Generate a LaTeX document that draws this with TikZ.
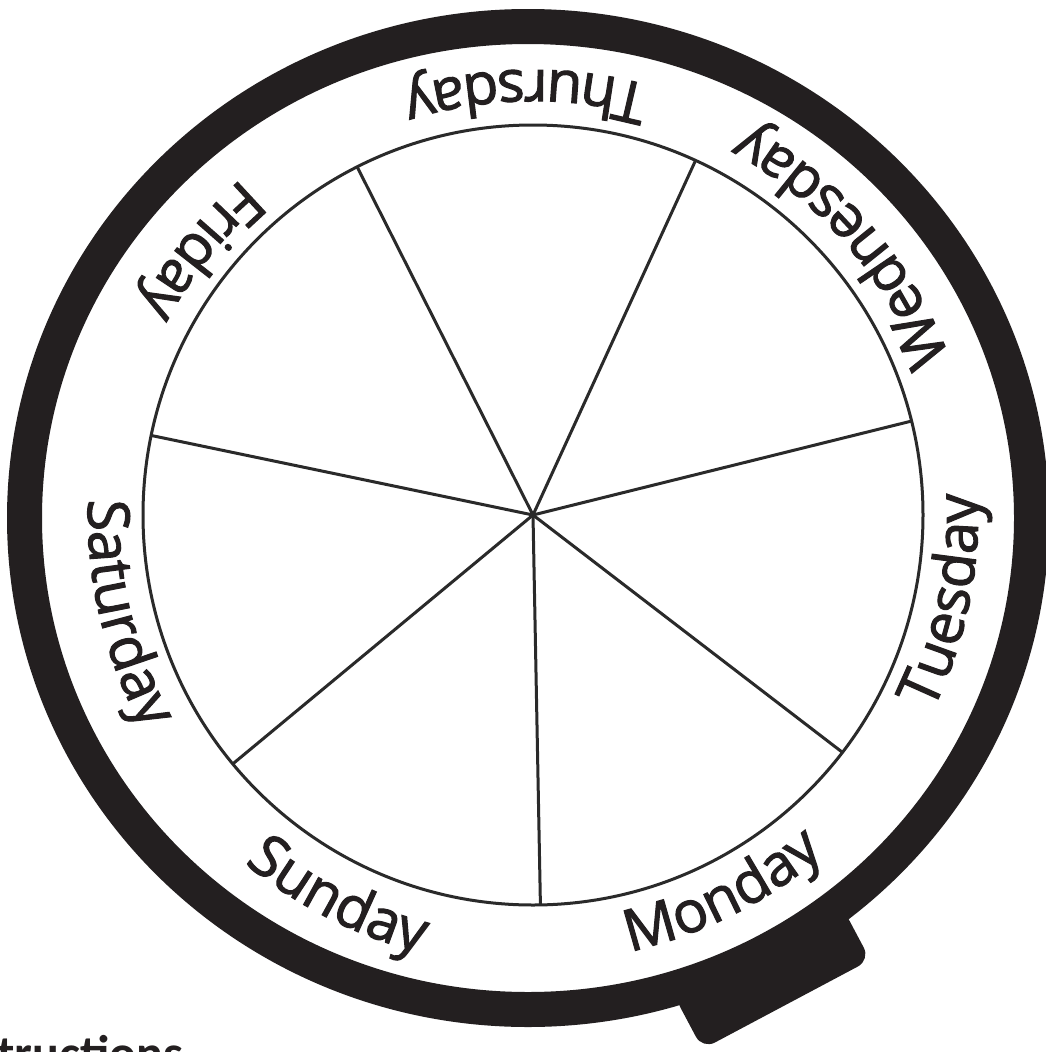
\documentclass[tikz,border=0pt]{standalone}
\usepackage{fontspec}
\usetikzlibrary{decorations.text}
\newfontfamily\dayfont[FakeBold=1.8]{Open Sans}
\newfontfamily\insfont{Carlito}
\definecolor{ringblack}{HTML}{231F20}
\definecolor{spokegray}{HTML}{2A2A2A}
\newcommand{\dayfmt}{\dayfont\fontsize{58}{60}\selectfont\color{ringblack}}
\begin{document}
\begin{tikzpicture}[x=1pt,y=1pt,
  spoke/.style={draw=spokegray, line width=3pt},
  daylabel/.style={decorate, decoration={text along path, text align=center, text={#1}}}]
\useasboundingbox (0,0) rectangle (1046,-1052);
\fill[white] (0,0) rectangle (1046,-1052);
% handle tab
\fill[ringblack, rounded corners=14pt] (841.7,-906.1) -- (870.3,-959.9) -- (702.5,-1049.1) -- (673.9,-995.3) -- cycle;
% outer ring
\fill[ringblack, even odd rule] (528,-518) ellipse [x radius=521, y radius=509]
  (528,-518) ellipse [x radius=486, y radius=474];
\coordinate (hub) at (533,-515);
\begin{scope}[shift={(533,-515)}]
  \draw[spoke, fill=white] (0,0) circle[radius=390];
  \foreach \a in {116.8, 65.37, 13.94, -37.49, -88.91, -140.34, 168.23}
    \draw[spoke] (0,0) -- (\a:390);
  \path[daylabel={|\dayfmt|Thursday}] (51:445) arc[start angle=51, end angle=131, radius=445];
  \path[daylabel={|\dayfmt|Wednesday}] (1:445) arc[start angle=1, end angle=81, radius=445];
  \path[daylabel={|\dayfmt|Tuesday}] (-51.7:445) arc[start angle=-51.7, end angle=28.3, radius=445];
  \path[daylabel={|\dayfmt|Monday}] (-103.4:447) arc[start angle=-103.4, end angle=-23.4, radius=447];
  \path[daylabel={|\dayfmt|Sunday}] (-157:452) arc[start angle=-157, end angle=-77, radius=452];
  \path[daylabel={|\dayfmt|Saturday}] (153.5:445) arc[start angle=153.5, end angle=233.5, radius=445];
  \path[daylabel={|\dayfmt|Friday}] (101.5:445) arc[start angle=101.5, end angle=181.5, radius=445];
\end{scope}
\node[anchor=base west, inner sep=0pt, text=ringblack,
  font=\insfont\bfseries\fontsize{50}{52}\selectfont] (ins) at (-3,-1070) {tructions};
\end{tikzpicture}
\end{document}
